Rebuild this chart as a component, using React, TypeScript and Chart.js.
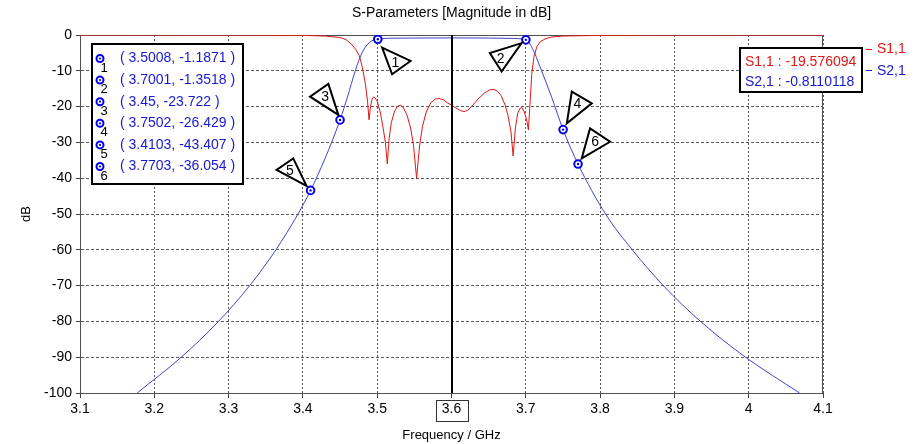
import React, { useEffect, useRef } from 'react';
import { Chart, registerables } from 'chart.js';

Chart.register(...registerables);

const FONT = 'Tahoma, "Liberation Sans", Arial, sans-serif';

// ---- data ----
const s11Freq = [
  3.1, 3.3, 3.4, 3.43, 3.45, 3.458, 3.465, 3.471, 3.476, 3.48, 3.484, 3.487, 3.489, 3.491, 3.493, 3.495, 3.497, 3.5,
  3.504, 3.508, 3.511, 3.5136, 3.516, 3.519, 3.523, 3.527, 3.531, 3.535, 3.54, 3.545, 3.549, 3.553, 3.557, 3.561,
  3.566, 3.572, 3.578, 3.583, 3.589, 3.595, 3.6, 3.606, 3.612, 3.617, 3.622, 3.629, 3.637, 3.645, 3.652, 3.657,
  3.662, 3.667, 3.672, 3.676, 3.68, 3.683, 3.686, 3.689, 3.692, 3.695, 3.698, 3.701, 3.7035, 3.706, 3.708, 3.711,
  3.715, 3.72, 3.727, 3.735, 3.75, 3.8, 3.9, 4.1,
];
const s11Db = [
  -0.02, -0.04, -0.1, -0.3, -0.7, -1.3, -2.5, -4, -5.8, -9, -13.5, -18.5, -23.7, -20, -18, -17.3, -17.5, -18.5,
  -21.5, -26, -30, -36, -29, -24.5, -21.5, -20, -19.6, -20.2, -22.3, -26, -31, -40, -31, -25.5,
  -21.5, -19, -17.9, -17.7, -18.1, -19, -19.58, -20.4, -21.1, -21.4, -21, -19.5, -17.6, -16.1, -15.3, -15.2,
  -15.7, -17, -19.5, -22.5, -27, -33.8, -26, -22, -20.5, -20.3, -21.5, -23.5, -26.5, -18, -11, -6,
  -3.2, -1.8, -1, -0.55, -0.3, -0.1, -0.04, -0.02,
];
const s21Freq = [
  3.1769, 3.2363, 3.2864, 3.3284, 3.3637, 3.3934, 3.4103, 3.43, 3.45, 3.46, 3.4705, 3.48, 3.49, 3.5008, 3.52, 3.55,
  3.6, 3.65, 3.68, 3.7001, 3.71, 3.719, 3.735, 3.7502, 3.7703, 3.8073, 3.8433, 3.8851, 3.9351, 3.9957, 4.0685,
];
const s21Db = [
  -100, -90, -80, -70, -60, -50, -43.407, -34.4, -23.722, -17.3, -10, -4.8, -2.0, -1.1871, -0.9, -0.85,
  -0.811, -0.85, -0.95, -1.3518, -4.2, -8.8, -17.5, -26.429, -36.054, -50, -60, -70, -80, -90, -100,
];
const markerIds = ['1', '2', '3', '4', '5', '6'];
const markerFreq = [3.5008, 3.7001, 3.45, 3.7502, 3.4103, 3.7703];
const markerDb = [-1.1871, -1.3518, -23.722, -26.429, -43.407, -36.054];
const xTicks = [3.1, 3.2, 3.3, 3.4, 3.5, 3.6, 3.7, 3.8, 3.9, 4.0, 4.1];
const xTickLabels = ['3.1', '3.2', '3.3', '3.4', '3.5', '3.6', '3.7', '3.8', '3.9', '4', '4.1'];
const yTicks = [0, -10, -20, -30, -40, -50, -60, -70, -80, -90, -100];
const cursorFreq = 3.6;
const cursorS11 = '-19.576094';
const cursorS21 = '-0.8110118';
const seriesNames = ['S1,1', 'S2,1'];
const titleText = 'S-Parameters [Magnitude in dB]';
const xTitle = 'Frequency / GHz';
const yTitle = 'dB';

// ---- styles ----
const RED = '#e01818';
const BLUE_LINE = '#4444c8';
const BLUE = '#0000ee';
const BLUE_TEXT = '#1818d0';
// callout triangles relative to marker pixel: vertices and label offset
const callouts = [
  { pts: [[4.3, 8.3], [32.7, 21.7], [14.3, 35]], label: [17.7, 23.3] },
  { pts: [[-4.3, 3.3], [-36, 13.3], [-24.3, 31.7]], label: [-25.3, 18.3] },
  { pts: [[-1.7, -5], [-11.7, -36], [-30, -23.3]], label: [-15, -23.3] },
  { pts: [[3.7, -6.3], [8.7, -38], [28.7, -26.3]], label: [14.3, -26.3] },
  { pts: [[-4, -4.4], [-17.3, -32], [-34, -20.4]], label: [-20.6, -20.4] },
  { pts: [[3.7, -5.7], [12, -35.7], [32, -22.3]], label: [17, -23] },
];

const decorPlugin = {
  id: 'decor',
  beforeDraw(chart: any) {
    const { ctx, width, height } = chart;
    ctx.save();
    ctx.fillStyle = '#ffffff';
    ctx.fillRect(0, 0, width, height);
    ctx.restore();
  },
  beforeDatasetsDraw(chart: any) {
    const { ctx, chartArea: a } = chart;
    ctx.save();
    ctx.strokeStyle = '#505050';
    ctx.lineWidth = 1;
    ctx.strokeRect(a.left + 0.5, a.top + 0.5, a.right - a.left - 1, a.bottom - a.top);
    ctx.restore();
  },
  afterDatasetsDraw(chart: any) {
    const { ctx, chartArea: a, scales } = chart;
    const xs = scales.x;
    const ys = scales.y;
    ctx.save();
    // cursor line
    const cx = Math.round(xs.getPixelForValue(cursorFreq));
    ctx.strokeStyle = '#000';
    ctx.lineWidth = 2;
    ctx.beginPath();
    ctx.moveTo(cx, a.top);
    ctx.lineTo(cx, a.bottom);
    ctx.stroke();
    // marker centers
    markerFreq.forEach((f, i) => {
      const px = xs.getPixelForValue(f);
      const py = ys.getPixelForValue(markerDb[i]);
      ctx.fillStyle = BLUE;
      ctx.beginPath();
      ctx.arc(px, py, 1.2, 0, Math.PI * 2);
      ctx.fill();
    });
    // callouts
    ctx.font = `14px ${FONT}`;
    ctx.textAlign = 'center';
    ctx.textBaseline = 'middle';
    markerFreq.forEach((f, i) => {
      const px = xs.getPixelForValue(f);
      const py = ys.getPixelForValue(markerDb[i]);
      const c = callouts[i];
      ctx.beginPath();
      c.pts.forEach((p, j) => {
        if (j === 0) ctx.moveTo(px + p[0], py + p[1]);
        else ctx.lineTo(px + p[0], py + p[1]);
      });
      ctx.closePath();
      ctx.fillStyle = '#fff';
      ctx.fill();
      ctx.strokeStyle = '#000';
      ctx.lineWidth = 2;
      ctx.lineJoin = 'miter';
      ctx.stroke();
      ctx.fillStyle = '#000';
      ctx.fillText(markerIds[i], px + c.label[0], py + c.label[1] + 1);
    });
    ctx.restore();
  },
  afterDraw(chart: any) {
    const { ctx, chartArea: a, scales } = chart;
    const xs = scales.x;
    ctx.save();
    const midX = (a.left + a.right) / 2;
    // title
    ctx.fillStyle = '#000';
    ctx.font = `14px ${FONT}`;
    ctx.textAlign = 'center';
    ctx.textBaseline = 'middle';
    ctx.fillText(titleText, midX, 13);
    // x title
    ctx.font = `13px ${FONT}`;
    ctx.fillText(xTitle, midX, 435);
    // y title
    ctx.save();
    ctx.translate(26, (a.top + a.bottom) / 2);
    ctx.rotate(-Math.PI / 2);
    ctx.fillText(yTitle, 0, 0);
    ctx.restore();
    // cursor tick box
    const cx = xs.getPixelForValue(cursorFreq);
    ctx.strokeStyle = '#333';
    ctx.lineWidth = 1;
    ctx.strokeRect(Math.round(cx - 16) + 0.5, 400.5, 32, 21);

    // left marker table
    const bx = 92, by = 44, bw = 151, bh = 140;
    ctx.fillStyle = '#fff';
    ctx.fillRect(bx, by, bw, bh);
    ctx.strokeStyle = '#000';
    ctx.lineWidth = 2;
    ctx.strokeRect(bx, by, bw, bh);
    markerFreq.forEach((f, i) => {
      const ry = 58.5 + i * 21.6;
      ctx.strokeStyle = BLUE;
      ctx.lineWidth = 2;
      ctx.beginPath();
      ctx.arc(100, ry, 3.5, 0, Math.PI * 2);
      ctx.stroke();
      ctx.fillStyle = BLUE;
      ctx.beginPath();
      ctx.arc(100, ry, 1.1, 0, Math.PI * 2);
      ctx.fill();
      ctx.fillStyle = '#000';
      ctx.font = `13px ${FONT}`;
      ctx.textAlign = 'center';
      ctx.fillText(markerIds[i], 104, ry + 9.5);
      ctx.fillStyle = BLUE_TEXT;
      ctx.font = `14px ${FONT}`;
      ctx.textAlign = 'left';
      ctx.fillText(`( ${f}, ${markerDb[i]} )`, 120, ry);
    });

    // right cursor box
    const rx = 740, ry0 = 48, rw = 122, rh = 44;
    ctx.fillStyle = '#fff';
    ctx.fillRect(rx, ry0, rw, rh);
    ctx.strokeStyle = '#000';
    ctx.lineWidth = 2;
    ctx.strokeRect(rx, ry0, rw, rh);
    ctx.font = `14px ${FONT}`;
    ctx.textAlign = 'left';
    ctx.fillStyle = RED;
    ctx.fillText(`${seriesNames[0]} : ${cursorS11}`, 745, 62);
    ctx.fillStyle = BLUE_TEXT;
    ctx.fillText(`${seriesNames[1]} : ${cursorS21}`, 745, 82);

    // right series labels
    ctx.lineWidth = 1;
    ctx.strokeStyle = RED;
    ctx.beginPath();
    ctx.moveTo(866, 49.5);
    ctx.lineTo(872, 49.5);
    ctx.stroke();
    ctx.fillStyle = RED;
    ctx.fillText(seriesNames[0], 877, 49);
    ctx.strokeStyle = BLUE_TEXT;
    ctx.beginPath();
    ctx.moveTo(866, 70.5);
    ctx.lineTo(872, 70.5);
    ctx.stroke();
    ctx.fillStyle = BLUE_TEXT;
    ctx.fillText(seriesNames[1], 877, 71);
    ctx.restore();
  },
};

export default function App() {
  const ref = useRef<HTMLCanvasElement>(null);
  useEffect(() => {
    const chart = new Chart(ref.current as HTMLCanvasElement, {
      type: 'line',
      data: {
        datasets: [
          {
            label: 'markers',
            data: markerFreq.map((f, i) => ({ x: f, y: markerDb[i] })),
            showLine: false,
            pointRadius: 3.8,
            pointBorderWidth: 2,
            pointBorderColor: BLUE,
            pointBackgroundColor: '#ffffff',
            order: 0,
          },
          {
            label: seriesNames[1],
            data: s21Freq.map((f, i) => ({ x: f, y: s21Db[i] })),
            borderColor: BLUE_LINE,
            borderWidth: 1,
            pointRadius: 0,
            cubicInterpolationMode: 'monotone',
            order: 1,
          },
          {
            label: seriesNames[0],
            data: s11Freq.map((f, i) => ({ x: f, y: s11Db[i] })),
            borderColor: RED,
            borderWidth: 1,
            pointRadius: 0,
            tension: 0,
            order: 2,
          },
        ],
      },
      options: {
        animation: false,
        responsive: false,
        devicePixelRatio: 1,
        layout: { padding: { top: 35, right: 97, left: 0, bottom: 0 } },
        plugins: { legend: { display: false }, tooltip: { enabled: false }, title: { display: false } },
        scales: {
          x: {
            type: 'linear',
            min: 3.1,
            max: 4.1,
            afterBuildTicks: (s: any) => {
              s.ticks = xTicks.map((v) => ({ value: v }));
            },
            afterFit: (s: any) => {
              s.height = 51;
            },
            ticks: {
              autoSkip: false,
              maxRotation: 0,
              padding: 3,
              color: '#000',
              font: { family: FONT, size: 14 },
              callback: (_v: any, i: number) => xTickLabels[i],
            },
            grid: { color: '#5a5a5a', lineWidth: 1, tickLength: 5, tickColor: '#404040' },
            border: { display: true, color: '#404040', width: 1, dash: [2, 2] },
          },
          y: {
            type: 'linear',
            min: -100,
            max: 0,
            afterBuildTicks: (s: any) => {
              s.ticks = yTicks.map((v) => ({ value: v }));
            },
            afterFit: (s: any) => {
              s.width = 80;
            },
            ticks: {
              padding: 4,
              color: '#000',
              font: { family: FONT, size: 14 },
            },
            grid: { color: '#5a5a5a', lineWidth: 1, tickLength: 4, tickColor: '#404040' },
            border: { display: true, color: '#404040', width: 1, dash: [3, 2] },
          },
        },
      },
      plugins: [decorPlugin],
    } as any);
    return () => chart.destroy();
  }, []);
  return (
    <div style={{ position: 'fixed', left: 0, top: 0, width: 920, height: 444, background: '#fff' }}>
      <canvas ref={ref} width={920} height={444} style={{ display: 'block', width: 920, height: 444 }} />
    </div>
  );
}
